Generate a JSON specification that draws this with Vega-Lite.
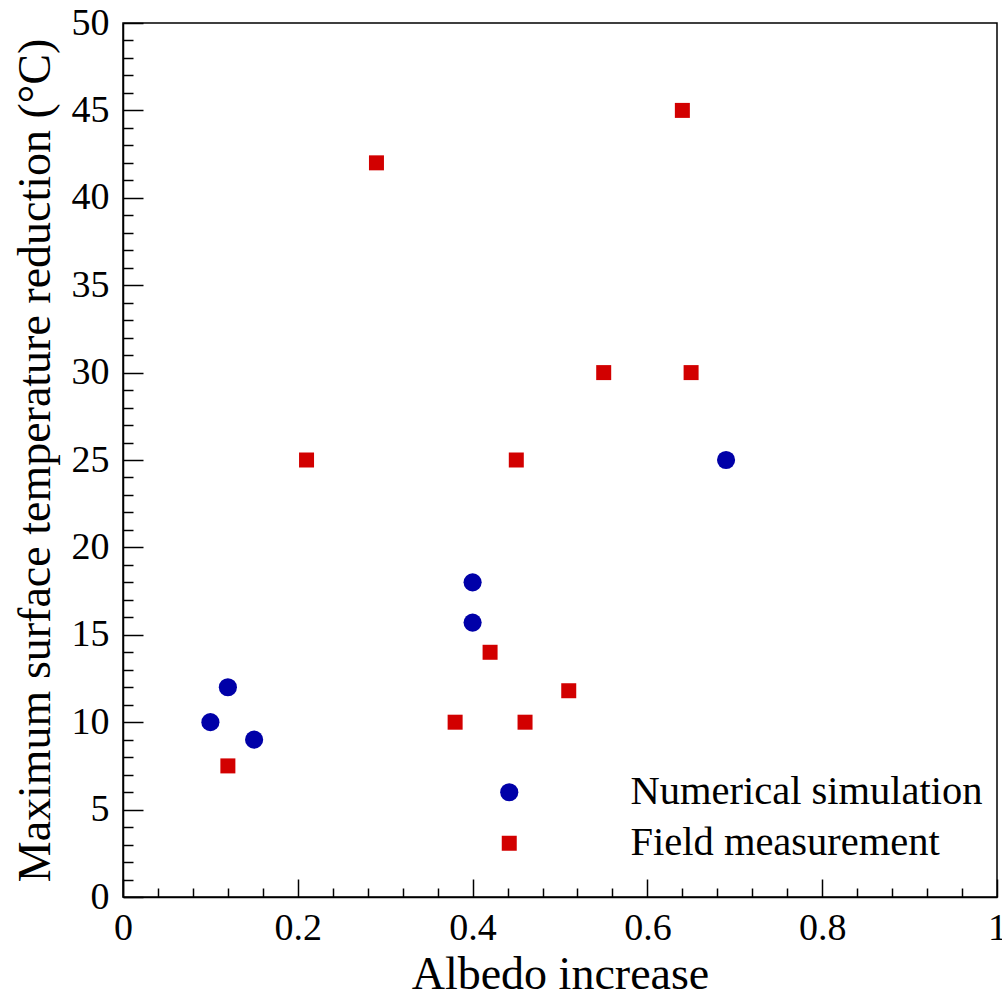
{
  "$schema": "https://vega.github.io/schema/vega-lite/v6.json",
  "width": 874,
  "height": 874,
  "autosize": "none",
  "padding": {"left": 123, "top": 23, "right": 5, "bottom": 102},
  "background": "white",
  "config": {
    "view": {"stroke": "black", "strokeWidth": 1.5},
    "font": "Liberation Serif",
    "axis": {"grid": false, "domainColor": "black", "domainWidth": 1.5, "tickColor": "black", "tickWidth": 1.5, "labelFont": "Liberation Serif", "titleFont": "Liberation Serif", "labelColor": "black", "titleColor": "black", "titleFontWeight": "normal", "labelFontSize": 38, "titleFontSize": 46}
  },
  "data": {
    "values": [
      {"albedo": 0.10, "reduction": 10, "series": "Numerical simulation"},
      {"albedo": 0.12, "reduction": 12, "series": "Numerical simulation"},
      {"albedo": 0.15, "reduction": 9, "series": "Numerical simulation"},
      {"albedo": 0.40, "reduction": 18, "series": "Numerical simulation"},
      {"albedo": 0.40, "reduction": 15.7, "series": "Numerical simulation"},
      {"albedo": 0.69, "reduction": 25, "series": "Numerical simulation"},
      {"albedo": 0.12, "reduction": 7.5, "series": "Field measurement"},
      {"albedo": 0.21, "reduction": 25, "series": "Field measurement"},
      {"albedo": 0.29, "reduction": 42, "series": "Field measurement"},
      {"albedo": 0.38, "reduction": 10, "series": "Field measurement"},
      {"albedo": 0.42, "reduction": 14, "series": "Field measurement"},
      {"albedo": 0.45, "reduction": 25, "series": "Field measurement"},
      {"albedo": 0.46, "reduction": 10, "series": "Field measurement"},
      {"albedo": 0.51, "reduction": 11.8, "series": "Field measurement"},
      {"albedo": 0.55, "reduction": 30, "series": "Field measurement"},
      {"albedo": 0.64, "reduction": 45, "series": "Field measurement"},
      {"albedo": 0.65, "reduction": 30, "series": "Field measurement"}
    ]
  },
  "mark": {"type": "point", "filled": true, "opacity": 1},
  "encoding": {
    "x": {
      "field": "albedo", "type": "quantitative",
      "scale": {"domain": [0, 1], "nice": false, "zero": false},
      "axis": {
        "title": "Albedo increase",
        "titlePadding": -4,
        "format": "~g",
        "values": [0,0.04,0.08,0.12,0.16,0.2,0.24,0.28,0.32,0.36,0.4,0.44,0.48,0.52,0.56,0.6,0.64,0.68,0.72,0.76,0.8,0.84,0.88,0.92,0.96,1],
        "labelExpr": "abs(round(datum.value*5) - datum.value*5) < 1e-6 ? datum.label : ''",
        "tickSize": {"condition": {"test": "abs(round(datum.value*5) - datum.value*5) < 1e-6", "value": -18}, "value": -9},
        "labelPadding": 30,
        "labelFlush": false,
        "labelOverlap": false
      }
    },
    "y": {
      "field": "reduction", "type": "quantitative",
      "scale": {"domain": [0, 50], "nice": false},
      "axis": {
        "title": "Maximum surface temperature reduction (°C)",
        "titlePadding": 12,
        "values": [0,1,2,3,4,5,6,7,8,9,10,11,12,13,14,15,16,17,18,19,20,21,22,23,24,25,26,27,28,29,30,31,32,33,34,35,36,37,38,39,40,41,42,43,44,45,46,47,48,49,50],
        "labelExpr": "datum.value % 5 === 0 ? datum.label : ''",
        "tickSize": {"condition": {"test": "datum.value % 5 === 0", "value": -20}, "value": -10},
        "labelPadding": 34,
        "labelFlush": false,
        "labelOverlap": false
      }
    },
    "color": {
      "field": "series", "type": "nominal",
      "scale": {"domain": ["Numerical simulation", "Field measurement"], "range": ["#0000a8", "#d20000"]},
      "legend": {
        "title": null,
        "orient": "none",
        "legendX": 366,
        "legendY": 749,
        "labelFontSize": 40.5,
        "labelFont": "Liberation Serif",
        "labelColor": "black",
        "labelLimit": 0,
        "labelOffset": 101,
        "symbolSize": 330,
        "rowPadding": 10,
        "symbolStrokeWidth": 0
      }
    },
    "shape": {
      "field": "series", "type": "nominal",
      "scale": {"domain": ["Numerical simulation", "Field measurement"], "range": ["circle", "square"]},
      "legend": null
    },
    "size": {
      "field": "series", "type": "nominal",
      "scale": {"domain": ["Numerical simulation", "Field measurement"], "range": [330, 225]},
      "legend": null
    }
  }
}
